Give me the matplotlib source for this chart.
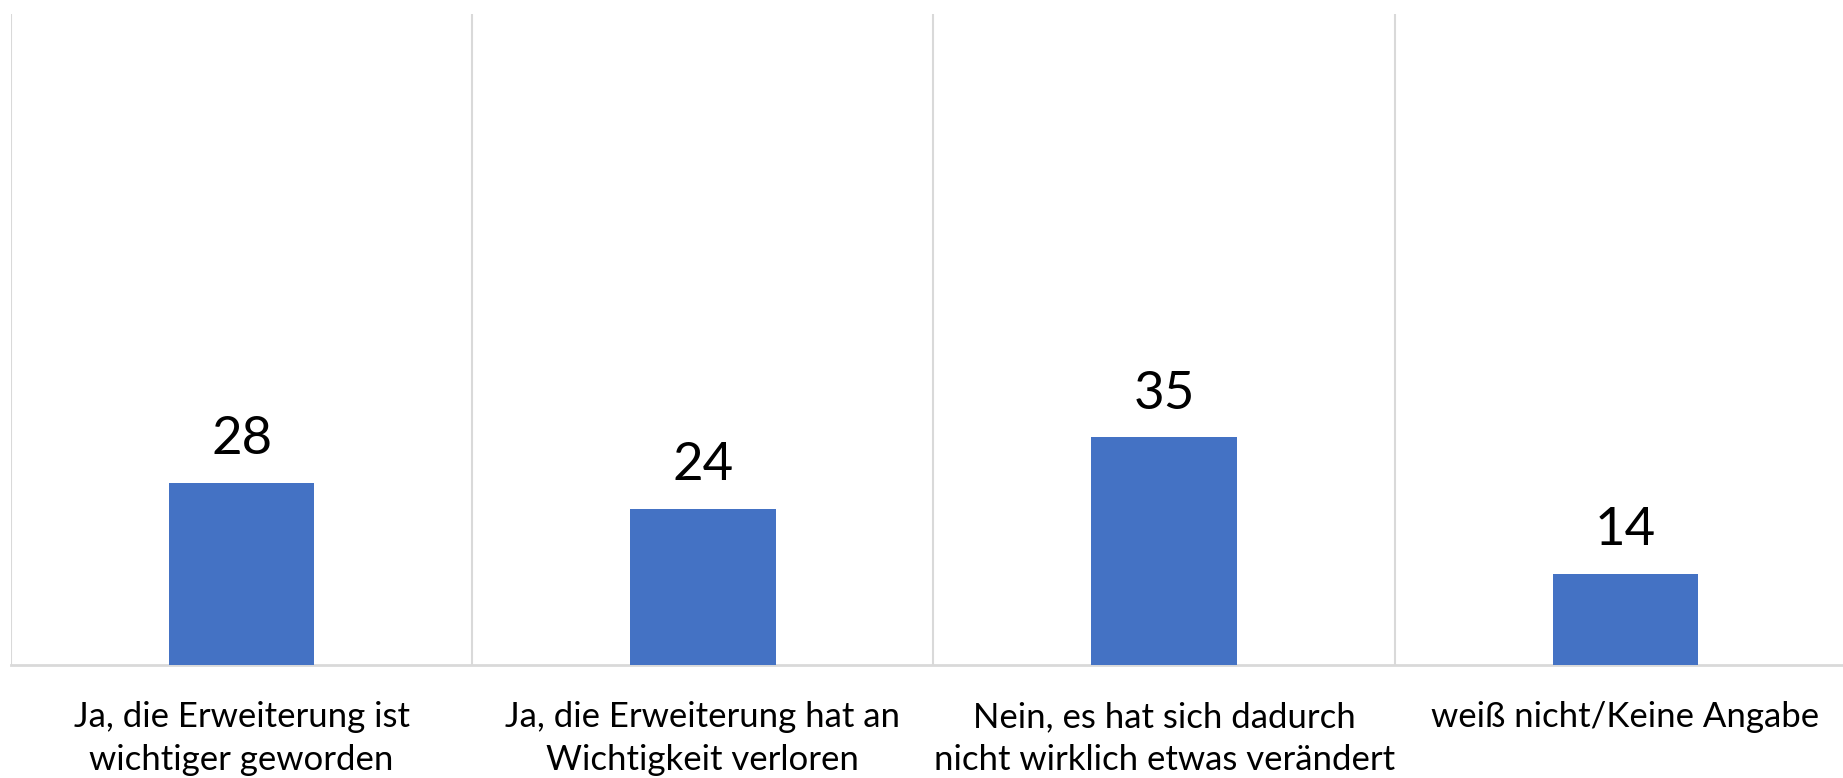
import numpy as np
import matplotlib
matplotlib.use('Agg')
import matplotlib.pyplot as plt

plt.rcParams['font.family'] = ['Lato', 'DejaVu Sans']

CATEGORIES = [
    'Ja, die Erweiterung ist\nwichtiger geworden',
    'Ja, die Erweiterung hat an\nWichtigkeit verloren',
    'Nein, es hat sich dadurch\nnicht wirklich etwas verändert',
    'weiß nicht/Keine Angabe',
]
VALUES = [28, 24, 35, 14]

BAR_COLOR = '#4472c4'
GRID_COLOR = '#d9d9d9'

W, H = 1843, 778
fig = plt.figure(figsize=(W / 100, H / 100), dpi=100)
# axes spans slightly past the right edge, as in the reference
ax = fig.add_axes([11 / W, (H - 665) / H, 1845 / W, 651 / H])

x = np.arange(len(VALUES))
bars = ax.bar(x, VALUES, width=0.315, color=BAR_COLOR, zorder=3)

ax.set_xlim(-0.5, len(VALUES) - 0.5)
ax.set_ylim(0, 100)

# category separators
for b in np.arange(-0.5, len(VALUES), 1.0):
    ax.axvline(b, color=GRID_COLOR, lw=1.5, zorder=1)

for s in ['top', 'left', 'right']:
    ax.spines[s].set_visible(False)
ax.spines['bottom'].set_color(GRID_COLOR)
ax.spines['bottom'].set_linewidth(2)

ax.set_yticks([])
ax.set_xticks(x)
ax.set_xticklabels(CATEGORIES, fontsize=25, linespacing=1.4)
ax.tick_params(axis='x', length=0, pad=26)

for rect, v in zip(bars, VALUES):
    ax.annotate(str(v), (rect.get_x() + rect.get_width() / 2, v),
                xytext=(0, 14), textcoords='offset points',
                ha='center', va='bottom', fontsize=38)

fig.savefig('out.png', dpi=100)
